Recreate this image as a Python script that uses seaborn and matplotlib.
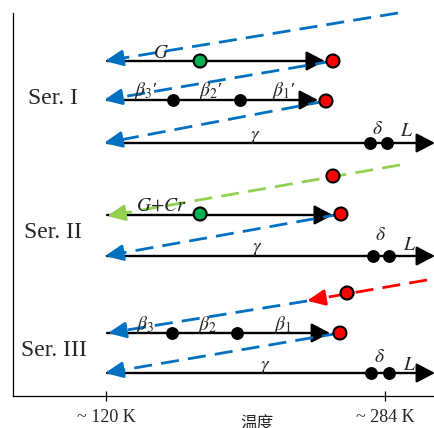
import numpy as np
import pandas as pd
import matplotlib
matplotlib.use("Agg")
import matplotlib.pyplot as plt
import seaborn as sns

# temperatures in K, y = row level counted from the top
series_labels = ["Ser. I", "Ser. II", "Ser. III"]
series_x = [89.1, 88.8, 89.4]
series_y = [99, 233, 350]

# transition points
dot_x = [175.3, 253.4, 159.4, 198.8, 249.3, 275.2, 285.2,
         253.4, 175.3, 258.1, 277.0, 286.4,
         261.7, 158.8, 197.0, 257.5, 275.8, 286.4]
dot_y = [61, 61, 100, 100, 101, 143, 143,
         176, 214, 214, 256, 256,
         293, 333, 333, 333, 373, 373]
dot_kind = ["green", "red", "black", "black", "red", "black", "black",
            "red", "green", "red", "black", "black",
            "red", "black", "black", "red", "black", "black"]

# heating paths (solid black arrows)
heat_start = [120.6, 120.6, 120.6, 120.6, 120.6, 120.6, 120.6]
heat_end = [248.7, 244.6, 313.4, 253.4, 313.4, 251.7, 313.4]
heat_y = [61, 100, 143, 215, 256, 333, 373]

# cooling paths (dashed arrows)
cool_x0 = [291.6, 253.4, 249.3, 292.8, 258.1, 308.7, 238.2, 257.5]
cool_y0 = [13, 61, 101, 165, 214, 280, 301, 333]
cool_x1 = [119.4, 118.8, 118.8, 120.6, 119.4, 238.2, 121.2, 119.4]
cool_y1 = [61, 100, 143, 216, 256, 300.7, 333, 373]
cool_kind = ["blue", "blue", "blue", "lime", "blue", "red", "blue", "blue"]

# phase labels
phase_text = ["$G$", r"$\beta_3$′", r"$\beta_2$′", r"$\beta_1$′", r"$\gamma$", r"$\delta$", "$L$",
              "$G{+}Cr$", r"$\gamma$", r"$\delta$", "$L$",
              r"$\beta_3$", r"$\beta_2$", r"$\beta_1$", r"$\gamma$", r"$\delta$", "$L$"]
phase_x = [152.3, 143.5, 181.7, 224.6, 207.6, 279.3, 296.9,
           152.3, 208.8, 281.6, 298.7,
           143.3, 179.5, 223.9, 213.5, 280.5, 298.7]
phase_y = [53.5, 91, 91, 91, 137, 130, 132,
           206.5, 250, 236, 246,
           325, 325, 325, 368, 357.5, 365]

tick_pos = [120, 284]
tick_labels = ["~ 120 K", "~ 284 K"]

colours = {"blue": "#0070C0", "lime": "#92D050", "red": "#FF0000",
           "green": "#00B050", "black": "black"}

sns.set_theme(style="white")
plt.rcParams["font.family"] = ["Liberation Serif", "Noto Sans CJK SC"]
plt.rcParams["mathtext.fontset"] = "stix"

fig = plt.figure(figsize=(4.35, 4.28), dpi=100)
ax = fig.add_axes([13 / 435, 32 / 428, 422 / 435, 383 / 428])
ax.set_xlim(65.3, 313.4)
ax.set_ylim(396, 13)

head = "-|>,head_length=0.42,head_width=0.22"

for x0, x1, y in zip(heat_start, heat_end, heat_y):
    ax.annotate("", xy=(x1, y), xytext=(x0, y), annotation_clip=False,
                arrowprops=dict(arrowstyle=head, mutation_scale=27, color="black",
                                lw=1.7, shrinkA=0, shrinkB=0), zorder=2)

for x0, y0, x1, y1, kind in zip(cool_x0, cool_y0, cool_x1, cool_y1, cool_kind):
    c = colours[kind]
    xb = x1 + (x0 - x1) * 0.04
    yb = y1 + (y0 - y1) * 0.04
    ax.plot([x0, xb], [y0, yb], color=c, lw=2, linestyle=(0, (6.5, 3.3)),
            solid_capstyle="butt", zorder=3, clip_on=False)
    ax.annotate("", xy=(x1, y1), xytext=(xb, yb), annotation_clip=False,
                arrowprops=dict(arrowstyle="-|>,head_length=0.4,head_width=0.18",
                                mutation_scale=27, color=c, lw=2,
                                shrinkA=0, shrinkB=0), zorder=3)

dots = pd.DataFrame({"x": dot_x, "y": dot_y, "kind": dot_kind})
big = dots[dots["kind"] != "black"]
small = dots[dots["kind"] == "black"]
sns.scatterplot(data=big, x="x", y="y", hue="kind", palette=colours, s=88,
                edgecolor="black", linewidth=1.5, legend=False, ax=ax, zorder=5, clip_on=False)
sns.scatterplot(data=small, x="x", y="y", color="black", s=68,
                edgecolor="black", linewidth=1, legend=False, ax=ax, zorder=5)

for t, x, y in zip(phase_text, phase_x, phase_y):
    ax.text(x, y, t, fontsize=14, ha="center", va="center", zorder=6)

for t, x, y in zip(series_labels, series_x, series_y):
    ax.text(x, y, t, fontsize=17, ha="center", va="center")

sns.despine(ax=ax)
for s in ["left", "bottom"]:
    ax.spines[s].set_color("black")
    ax.spines[s].set_linewidth(0.9)
ax.set_yticks([])
ax.set_xticks(tick_pos, tick_labels)
ax.tick_params(axis="x", direction="inout", length=7, width=0.9, color="black",
               labelsize=13, pad=6, bottom=True)
ax.set_ylabel("")
ax.set_xlabel("温度", fontsize=12, family=["Noto Sans CJK SC"])
ax.xaxis.set_label_coords(0.578, -0.05)

fig.savefig("out.png", dpi=100)
